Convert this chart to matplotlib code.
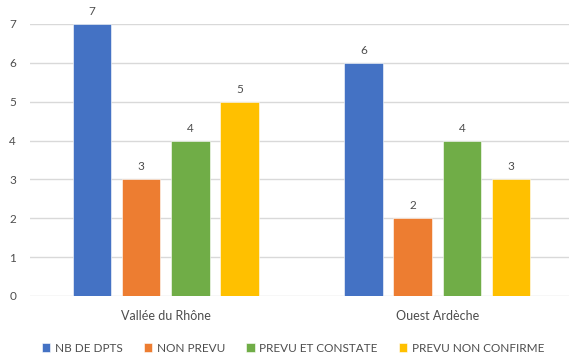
import matplotlib.pyplot as plt
import numpy as np

plt.rcParams['font.family'] = ['Lato', 'DejaVu Sans']

regions = ["Vallée du Rhône", "Ouest Ardèche"]
series = ["NB DE DPTS", "NON PREVU", "PREVU ET CONSTATE", "PREVU NON CONFIRME"]
nb_dpts = [7, 6]
non_prevu = [3, 2]
prevu_constate = [4, 4]
prevu_non_confirme = [5, 3]
colors = ["#4472C4", "#ED7D31", "#70AD47", "#FFC000"]

values = [nb_dpts, non_prevu, prevu_constate, prevu_non_confirme]
text_col = "#4d4d4d"

fig = plt.figure(figsize=(5.69, 3.58), dpi=100)
ax = fig.add_axes([30 / 569, 62 / 358, 539 / 569, 272 / 358])

x = np.arange(len(regions))
step = 0.181
width = 0.142
for i, (name, vals, c) in enumerate(zip(series, values, colors)):
    pos = x + (i - 1.5) * step
    bars = ax.bar(pos, vals, width, color=c, label=name, zorder=3,
                  edgecolor="white", linewidth=0.4)
    for b, v in zip(bars, vals):
        ax.text(b.get_x() + b.get_width() / 2, v + 0.18, str(v),
                ha="center", va="bottom", fontsize=8.5, color=text_col,
                clip_on=False)

ax.set_xlim(-0.5, 1.5 - 4 / 271.5)
ax.set_ylim(0, 7)
ax.set_yticks(range(8))
ax.yaxis.grid(True, color="#d9d9d9", linewidth=1, zorder=0)
for s in ax.spines.values():
    s.set_visible(False)
ax.tick_params(axis="both", length=0, labelsize=8.5, colors=text_col)
ax.tick_params(axis="y", pad=10)
ax.tick_params(axis="x", pad=10, labelsize=9)
ax.set_xticks(x)
ax.set_xticklabels(regions)

fig.legend(loc="center", bbox_to_anchor=(293 / 569, 10 / 358), ncol=4,
           frameon=False, fontsize=8.5, handlelength=0.7, handleheight=0.7,
           handletextpad=0.4, columnspacing=1.8, labelcolor=text_col)

fig.savefig("out.png", dpi=100)
